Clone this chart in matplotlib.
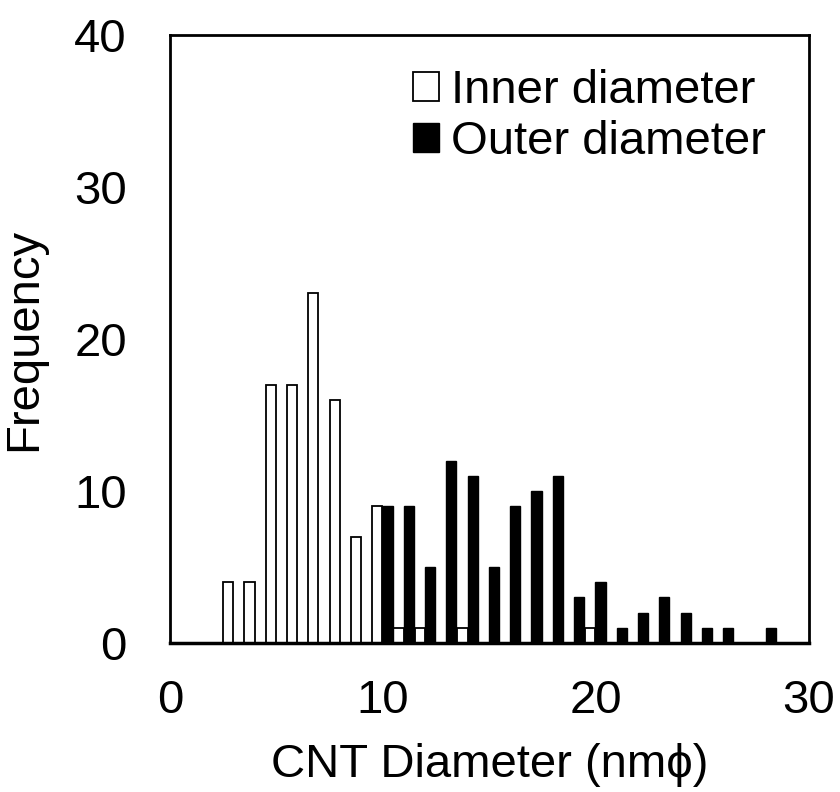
import numpy as np
import matplotlib
matplotlib.use('Agg')
import matplotlib.pyplot as plt
from matplotlib.patches import Patch

plt.rcParams['font.family'] = ['Liberation Sans', 'DejaVu Sans']

# histogram categories (nm) and counts
diam = np.arange(1, 31)
inner = [0, 0, 4, 4, 17, 17, 23, 16, 7, 9,
         1, 1, 0, 1, 0, 0, 0, 0, 0, 1,
         0, 0, 0, 0, 0, 0, 0, 0, 0, 0]
outer = [0, 0, 0, 0, 0, 0, 0, 0, 0, 9,
         9, 5, 12, 11, 5, 9, 10, 11, 3, 4,
         1, 2, 3, 2, 1, 1, 0, 1, 0, 0]
xticks = [0, 10, 20, 30]
yticks = [0, 10, 20, 30, 40]

fs = 34
fig = plt.figure(figsize=(8.4, 7.92), dpi=100)
ax = fig.add_axes([0.2024, 0.1881, 0.7607, 0.7677])

w = 0.48
ax.bar(diam - 0.03, inner, width=-w, align='edge', color='white',
       edgecolor='black', linewidth=1.3, zorder=2)
ax.bar(diam - 0.03, outer, width=w, align='edge', color='black',
       edgecolor='black', linewidth=1.0, zorder=3)

ax.set_xlim(0, 30)
ax.set_ylim(0, 40)
ax.set_xticks(xticks)
ax.set_yticks(yticks)
ax.tick_params(length=0, labelsize=fs)
ax.tick_params(axis='x', pad=26)
ax.tick_params(axis='y', pad=31)
for s in ax.spines.values():
    s.set_linewidth(2.0)
ax.spines['bottom'].set_linewidth(2.5)

ax.set_xlabel('CNT Diameter (nmϕ)', fontsize=fs, labelpad=14)
ax.set_ylabel('Frequency', fontsize=fs, labelpad=20)

handles = [Patch(facecolor='white', edgecolor='black', linewidth=1.3, label='Inner diameter'),
           Patch(facecolor='black', edgecolor='black', label='Outer diameter')]
ax.legend(handles=handles, loc='upper left', bbox_to_anchor=(413 / 840, 1 - 69 / 792),
          bbox_transform=fig.transFigure, frameon=False, fontsize=fs,
          handlelength=0.55, handleheight=0.55, handletextpad=0.25,
          labelspacing=0.15, borderpad=0, borderaxespad=0)

fig.savefig('out.png', dpi=100)
